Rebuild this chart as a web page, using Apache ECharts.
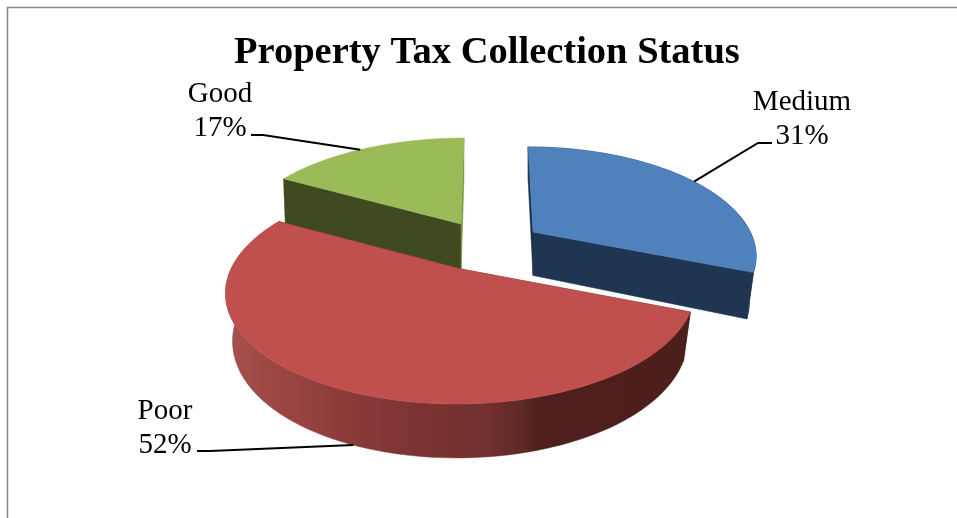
<!DOCTYPE html>
<html>
<head>
<meta charset="utf-8">
<style>html,body{margin:0;padding:0;background:#fff}#chart{width:957px;height:518px}</style>
<script src="https://cdn.jsdelivr.net/npm/echarts@6/dist/echarts.min.js"></script>
</head>
<body>
<div id="chart"></div>
<script>
// Collection status shares, clockwise from twelve o'clock
const categories = ['Medium', 'Poor', 'Good'];
const shares = [31, 52, 17];
const chartTitle = 'Property Tax Collection Status';

// Pie body: perspective projection of a tilted disc
const RADIUS_X = 230, RADIUS_Y = 108, PERSPECTIVE = 0.2;
const VANISH_X = 488, VANISH_DIST = 776;
const THICKNESS = 46, THICKNESS_GROW = 0.26;
const FONT = '"Liberation Serif", "Times New Roman", serif';

// Per-slice look: exploded apex, distance scale, paint order and face colours
const sliceStyle = {
  Medium: { apex: [533, 232], scale: 0.945, xScale: 1, depth: 1, shrink: 0.97, z: 1, top: '#4f81bd',
    startFace: '#1a2c46', endFace: '#1f3552', wall: '#1f3552',
    label: [802, 85], leader: [[772, 143], [758, 143]], anchorBase: false, anchorNudge: 1 },
  Good: { apex: [461, 224], scale: 0.955, xScale: 1.02, depth: 1.18, shrink: 0.99, z: 2, top: '#9bbb59',
    startFace: '#404a20', endFace: '#76913f', wall: '#404a20',
    label: [220, 77], leader: [[251, 135], [263, 135]], anchorBase: false, anchorNudge: -2 },
  Poor: { apex: [461, 269], scale: 1, xScale: 1, depth: 1, shrink: 0.97, z: 3, top: '#c0504d',
    startFace: '#4c1e1c', endFace: '#4c1e1c', wall: null,
    label: [165, 394], leader: [[197, 451], [210, 451]], anchorBase: true, anchorNudge: -3 }
};

const total = shares.reduce((a, b) => a + b, 0);
const startAngles = shares.map((_, i) => shares.slice(0, i).reduce((a, b) => a + b, 0) / total * 360);

function project(st, deg, base) {
  const t = deg * Math.PI / 180;
  const s = Math.sin(t), c = -Math.cos(t);
  const p = 1 / (1 - PERSPECTIVE * c);
  const dy = RADIUS_Y * st.scale * c * p;
  const dx = RADIUS_X * st.scale * st.xScale * s * p + (VANISH_X - st.apex[0]) * (-dy) / VANISH_DIST;
  if (!base) return [st.apex[0] + dx, st.apex[1] + dy];
  return [st.apex[0] + dx * st.shrink,
          st.apex[1] + dy * st.shrink + THICKNESS * st.scale * st.depth * (1 + THICKNESS_GROW * c)];
}

function apexOf(st, base) {
  return base ? [st.apex[0], st.apex[1] + THICKNESS * st.scale * st.depth] : st.apex.slice();
}

function rim(st, from, to, base) {
  const pts = [];
  const n = Math.ceil(Math.abs(to - from) / 2);
  for (let i = 0; i <= n; i++) pts.push(project(st, from + (to - from) * i / n, base));
  return pts;
}

const poly = (points, fill, z2) => ({
  type: 'polygon', z2, shape: { points },
  style: { fill, stroke: fill, lineWidth: 0.5 }
});

// Side wall of the large slice darkens from left to right in screen space
const wallFill = new echarts.graphic.LinearGradient(232, 0, 690, 0, [
  { offset: 0, color: '#a64f4c' },
  { offset: 0.25, color: '#8c3b39' },
  { offset: 0.42, color: '#7a3331' },
  { offset: 0.56, color: '#712f2d' },
  { offset: 0.63, color: '#5f2a27' },
  { offset: 0.675, color: '#4e1f1d' },
  { offset: 1, color: '#4c1e1c' }
], true);

function renderSlice(params, api) {
  const i = params.dataIndex;
  const name = categories[i];
  const st = sliceStyle[name];
  const from = startAngles[i];
  const to = from + api.value(0) / total * 360;
  const z = st.z * 10;
  const a0 = apexOf(st, false), a1 = apexOf(st, true);
  const children = [];

  // radial cut faces, then the outer wall, then the top face
  children.push(poly([a0, project(st, from, false), project(st, from, true), a1], st.startFace, z));
  children.push(poly([a0, project(st, to, false), project(st, to, true), a1], st.endFace, z));
  const wallTop = rim(st, from, to, false);
  const wallBase = rim(st, from, to, true).reverse();
  if (name !== 'Good') children.push(poly(wallTop.concat(wallBase), st.wall || wallFill, z + 1));
  children.push(poly([a0].concat(wallTop), st.top, z + 2));

  // leader line and label
  const anchor = project(st, (from + to) / 2 + st.anchorNudge, st.anchorBase);
  children.push({
    type: 'polyline', z2: 60,
    shape: { points: st.leader.concat([anchor]) },
    style: { stroke: '#000', lineWidth: 2, fill: null }
  });
  children.push({
    type: 'text', z2: 61,
    style: {
      text: name + '\n' + api.value(0) + '%',
      x: st.label[0], y: st.label[1],
      font: '29px ' + FONT, lineHeight: 34.5,
      fill: '#000', align: 'center', verticalAlign: 'top'
    }
  });
  return { type: 'group', children };
}

const chart = echarts.init(document.getElementById('chart'), null, { renderer: 'canvas' });
chart.setOption({
  animation: false,
  backgroundColor: '#fff',
  title: {
    text: chartTitle, left: 234, top: 34, padding: 0,
    textStyle: { fontFamily: FONT, fontSize: 38.5, fontWeight: 'bold', color: '#000' }
  },
  graphic: [{
    type: 'polyline', silent: true,
    shape: { points: [[7.5, 518], [7.5, 7.5], [957, 7.5]] },
    style: { stroke: '#868686', lineWidth: 1.5, fill: null }
  }],
  series: [{
    type: 'custom',
    coordinateSystem: 'none',
    renderItem: renderSlice,
    clip: false,
    silent: true,
    data: categories.map((name, i) => ({ name, value: [shares[i]] }))
  }]
});
</script>
</body>
</html>
